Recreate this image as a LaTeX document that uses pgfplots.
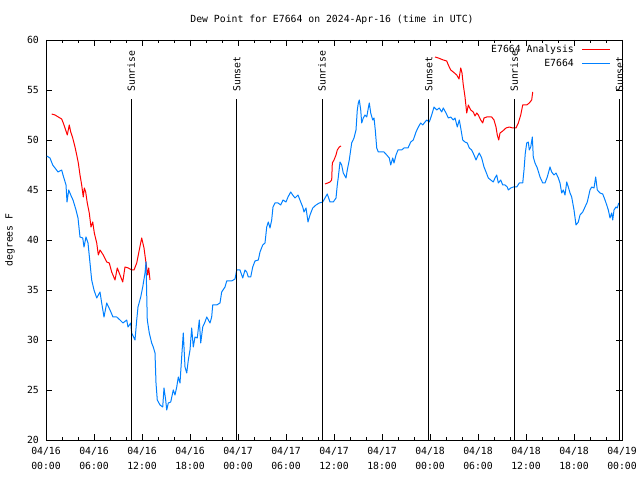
\documentclass[border=0pt]{standalone}
\usepackage{fontspec}
\setmainfont{DejaVu Sans Mono}
\usepackage{pgfplots}
\pgfplotsset{compat=1.18}
\definecolor{anared}{RGB}{255,0,0}
\definecolor{obsblue}{RGB}{0,128,255}
\begin{document}
\begin{tikzpicture}[x=1bp,y=1bp]
\useasboundingbox (0,0) rectangle (640,480);
\node[font=\fontsize{9.8bp}{12bp}\selectfont] at (332,460) {Dew Point for E7664 on 2024-Apr-16 (time in UTC)};
\node[rotate=90,font=\fontsize{9.8bp}{12bp}\selectfont] at (10,240) {degrees F};
\begin{axis}[
  at={(46bp,40bp)}, anchor=south west, scale only axis,
  width=576bp, height=400bp,
  xmin=0, xmax=72, ymin=20, ymax=60,
  xtick={0,6,...,72}, minor x tick num=2,
  xticklabels={{04/16\\00:00},{04/16\\06:00},{04/16\\12:00},{04/16\\18:00},{04/17\\00:00},{04/17\\06:00},{04/17\\12:00},{04/17\\18:00},{04/18\\00:00},{04/18\\06:00},{04/18\\12:00},{04/18\\18:00},{04/19\\00:00}},
  ytick={20,25,...,60},
  tick align=inside, xtick pos=both, ytick pos=both,
  major tick length=6bp, minor tick length=3bp,
  tick style={black, line width=0.8bp},
  axis line style={line width=0.8bp},
  /pgf/number format/assume math mode=true,
  font=\fontsize{9.8bp}{15bp}\selectfont,
  xticklabel style={align=center, anchor=north, inner sep=0pt, yshift=-7bp},
  yticklabel style={anchor=east, inner sep=0pt, xshift=-7bp},
  unbounded coords=jump,
  clip mode=individual,
  legend plot pos=right,
  legend cell align=right,
  legend style={at={(axis description cs:1,1)}, anchor=north east, xshift=-11bp, yshift=-4bp,
    draw=none, fill=none, inner sep=0pt, row sep=4bp, /tikz/column sep=8bp,
    nodes={inner sep=0pt, text height=8bp, text depth=2bp},
    font=\fontsize{9.8bp}{12bp}\selectfont},
  every axis plot/.append style={line width=1bp, line join=round},
  legend image code/.code={\draw[#1] (0bp,0bp) -- (28bp,0bp);},
]
\addplot[anared, no marks] coordinates {
(0.71,52.6)(1.125,52.5)(1.54,52.3)(1.96,52.1)(2.16,51.7)(2.375,51.2)(2.66,50.5)(2.91,51.5)(3.09,50.8)(3.34,50.2)
(3.625,49.3)(3.84,48.5)(4.04,47.7)(4.25,46.5)(4.46,45.5)(4.66,44.3)(4.79,45.2)(4.96,44.8)(5.16,43.7)(5.41,42.7)
(5.625,41.3)(5.84,41.8)(6.04,40.7)(6.34,39.7)(6.54,38.5)(6.75,39)(7.16,38.5)(7.59,37.8)(7.91,37.7)(8.21,36.8)
(8.625,36)(8.91,37.2)(9.25,36.5)(9.59,35.8)(9.875,37.3)(10.29,37.2)(10.71,37)(11.0,37)(11.34,37.7)(11.66,39)
(11.96,40.2)(12.25,39.2)(12.5,37.7)(12.71,36.5)(12.84,37.2)(13.0,36)
(13.5,nan)
(34.875,45.6)(35.21,45.7)(35.5,45.8)(35.71,46)(35.79,47.7)(36.0,48)(36.25,48.5)(36.41,49)(36.66,49.3)(36.875,49.4)
(40,nan)
(48.625,58.3)(49.04,58.2)(49.66,58)(50.09,57.9)(50.29,57.5)(50.59,57)(50.91,56.8)(51.34,56.5)(51.625,56.1)(51.84,57.2)
(52.0,56.7)(52.16,55.5)(52.375,54.3)(52.59,52.7)(52.79,53.5)(53.09,53)(53.41,52.8)(53.625,52.4)(53.84,52.7)(54.04,52.5)
(54.34,52)(54.59,51.7)(54.75,52.2)(55.09,52.3)(55.71,52.3)(56.0,52)(56.25,51.3)(56.41,50.5)(56.59,50)(56.75,50.7)
(57.09,50.9)(57.5,51.2)(57.91,51.3)(58.34,51.2)(58.75,51.2)(59.04,51.7)(59.34,52.5)(59.59,53.5)(60.09,53.5)(60.41,53.7)
(60.71,54)(60.84,54.8)
};
\addlegendentry{E7664 Analysis}
\addplot[obsblue, no marks] coordinates {
(0.09,48.4)(0.5,48.2)(0.84,47.5)(1.125,47.2)(1.5,46.8)(1.96,47)(2.125,46.5)(2.5,45.5)(2.625,43.8)(2.84,45)
(3.09,44.5)(3.375,44)(3.75,43)(4.0,42.2)(4.25,40.3)(4.59,40.2)(4.75,39.3)(5.0,40.3)(5.25,39.7)(5.5,37.7)
(5.71,36)(6.0,35)(6.34,34.2)(6.75,34.8)(6.96,33.7)(7.25,32.3)(7.59,33.7)(8.0,33)(8.375,32.3)(8.84,32.3)
(9.25,32)(9.625,31.7)(10.09,32)(10.25,31.3)(10.59,31.7)(10.71,30.7)(11.125,30)(11.34,32)(11.5,33.3)(11.84,34.3)
(12.09,35.3)(12.375,36.7)(12.5,37.8)(12.66,32)(12.91,30.7)(13.21,29.7)(13.41,29.3)(13.625,28.7)(13.75,25.7)(13.91,24)
(14.25,23.5)(14.59,23.3)(14.75,25.2)(14.96,24)(15.09,23)(15.29,23.7)(15.59,23.8)(15.91,25)(16.125,24.5)(16.34,25.3)
(16.54,26.3)(16.75,25.7)(16.96,28.3)(17.16,30.7)(17.375,27.3)(17.59,26.7)(17.79,28)(18.0,29)(18.21,31.2)(18.41,29.3)
(18.625,30.3)(18.91,30.2)(19.16,32)(19.34,29.7)(19.59,31.3)(19.875,31.8)(20.09,32.3)(20.5,31.7)(20.71,32.3)(20.84,33.5)
(21.34,33.5)(21.75,33.7)(21.96,34.8)(22.375,35.3)(22.59,35.9)(23.21,35.9)(23.625,36.1)(23.84,37)(24.25,37)(24.59,36.2)
(24.875,37)(25.09,36.8)(25.29,36.3)(25.59,36.3)(25.84,37.3)(26.125,37.9)(26.54,38)(26.75,38.8)(27.09,39.5)(27.375,39.7)
(27.59,41.3)(27.79,41.8)(28.0,41.2)(28.21,42)(28.375,43.3)(28.625,43.7)(29.0,43.7)(29.34,43.5)(29.625,44)(30.0,43.8)
(30.25,44.3)(30.59,44.8)(30.84,44.5)(31.125,44.2)(31.5,44.5)(31.84,43.8)(32.09,43.3)(32.25,42.8)(32.5,43.2)(32.75,41.8)
(33.0,42.5)(33.34,43.2)(33.75,43.5)(34.16,43.7)(34.59,43.8)(34.875,44.2)(35.16,44.6)(35.5,43.8)(35.91,43.8)(36.25,44.2)
(36.41,45.5)(36.54,46.3)(36.75,47.8)(36.96,47.5)(37.16,46.7)(37.5,46.2)(37.66,47)(37.91,48)(38.21,49.7)(38.5,50.2)
(38.75,51)(38.91,53)(39.04,53.7)(39.16,54)(39.34,53)(39.46,51.7)(39.66,52.2)(39.875,52.5)(40.09,52.3)(40.29,53.2)
(40.41,53.7)(40.59,52.7)(40.84,52)(41.0,52.2)(41.16,51)(41.34,49.2)(41.54,48.8)(41.96,48.8)(42.25,48.8)(42.59,48.5)
(42.91,48.2)(43.09,47.5)(43.34,48.2)(43.5,47.7)(43.75,48.5)(44.0,49)(44.46,49)(44.75,49.2)(45.25,49.2)(45.59,49.8)
(45.91,50)(46.25,50.8)(46.54,51.3)(46.84,51.7)(47.09,51.5)(47.375,51.8)(47.59,52)(47.91,51.8)(48.21,52.5)(48.5,53.3)
(48.84,53)(49.16,53.2)(49.46,52.8)(49.66,53.2)(50.0,52.7)(50.29,52.2)(50.59,52.3)(50.91,52)(51.125,52.2)(51.41,51.3)
(51.66,52)(51.84,51.2)(52.09,50)(52.375,49.8)(52.66,49.7)(52.91,49.2)(53.21,49)(53.5,48.5)(53.75,48)(53.91,48.3)
(54.16,48.7)(54.46,48.2)(54.75,47.3)(55.0,46.8)(55.29,46.2)(55.59,46)(55.91,45.8)(56.125,46.2)(56.34,46.5)(56.54,45.7)
(56.84,46)(57.09,45.5)(57.375,45.5)(57.66,45.3)(57.79,45)(58.09,45.2)(58.41,45.3)(58.84,45.3)(59.16,45.7)(59.59,45.7)
(59.75,47)(59.91,48.7)(60.09,49.7)(60.29,49.8)(60.41,49)(60.59,49.3)(60.79,50.3)(60.91,48.3)(61.125,47.7)(61.41,47.2)
(61.75,46.3)(62.09,45.7)(62.375,45.7)(62.66,46.3)(63.0,47.3)(63.21,46.8)(63.5,46.5)(63.75,46.7)(64.04,46.2)(64.25,45.7)
(64.46,44.7)(64.66,45)(64.875,44.5)(65.09,45.8)(65.29,45.3)(65.5,44.7)(65.71,44.3)(66.0,43)(66.25,41.5)(66.54,41.8)
(66.75,42.5)(67.09,42.8)(67.375,43.3)(67.66,43.8)(68.0,45)(68.21,45.3)(68.5,45.2)(68.71,46.3)(68.91,45)(69.25,44.7)
(69.59,44.6)(69.875,44)(70.09,43.5)(70.29,43)(70.5,42.2)(70.71,42.7)(70.84,42)(71.0,43)(71.25,43.3)(71.41,43.2)
(71.59,43.7)
};
\addlegendentry{E7664}
\foreach \t/\lab in {10.66/Sunrise,23.84/Sunset,34.5/Sunrise,47.84/Sunset,58.54/Sunrise,71.7/Sunset}{
  \edef\temp{\noexpand\draw[black, line width=1bp] (axis cs:\t,20) -- (axis cs:\t,54.1);
    \noexpand\node[rotate=90, anchor=west, inner sep=0pt, font=\noexpand\fontsize{9.8bp}{12bp}\noexpand\selectfont] at (axis cs:\t,54.8) {\lab};}
  \temp
}
\end{axis}
\end{tikzpicture}
\end{document}
